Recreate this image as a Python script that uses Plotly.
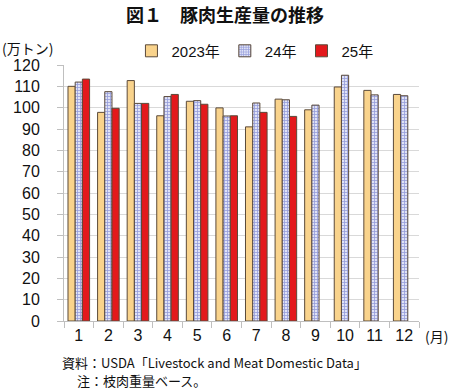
import plotly.graph_objects as go

months = ["1", "2", "3", "4", "5", "6", "7", "8", "9", "10", "11", "12"]
y2023 = [110.0, 97.8, 112.7, 96.2, 103.0, 99.9, 91.0, 104.0, 99.0, 109.7, 108.1, 106.2]
y2024 = [112.0, 107.5, 102.0, 105.2, 103.3, 96.1, 102.2, 103.7, 101.2, 115.2, 106.0, 105.6]
y2025 = [113.4, 99.7, 102.0, 106.2, 101.6, 96.2, 97.8, 95.9, None, None, None, None]
series_names = ["2023年", "24年", "25年"]
y_ticks = list(range(0, 121, 10))

FONT = "Liberation Sans, Arial, Noto Sans CJK JP, sans-serif"
JFONT = "Noto Sans CJK JP, sans-serif"
outline = dict(color="#5b4a3a", width=1)

fig = go.Figure()
fig.add_trace(go.Bar(x=months, y=y2023, name=series_names[0],
                     marker=dict(color="#F9D38C", line=outline)))
fig.add_trace(go.Bar(x=months, y=y2024, name=series_names[1],
                     marker=dict(color="#dfe2f6", line=outline,
                                 pattern=dict(shape="+", fgcolor="#4a55c0", bgcolor="#dfe2f6",
                                              size=3, solidity=0.45))))
fig.add_trace(go.Bar(x=months, y=y2025, name=series_names[2],
                     marker=dict(color="#E3191C", line=outline)))

fig.update_layout(
    width=450, height=390,
    margin=dict(l=64, r=31, t=65, b=69, autoexpand=False),
    paper_bgcolor="white", plot_bgcolor="white",
    barmode="group", bargap=0.27, bargroupgap=0,
    font=dict(family=FONT, size=15, color="#111"),
    showlegend=True,
    legend=dict(orientation="h", x=0.19, xanchor="left", y=0.99, yanchor="bottom",
                font=dict(family=FONT, size=15), itemwidth=30,
                traceorder="normal", bgcolor="rgba(0,0,0,0)"),
    title=dict(text="<b>図１　豚肉生産量の推移</b>", x=0.5, xanchor="center",
               y=0.977, yanchor="top", font=dict(family=JFONT, size=18, color="#111")),
)
fig.update_yaxes(range=[0, 120], tickvals=y_ticks, showgrid=True, gridcolor="#d9d9d9",
                 showline=True, linecolor="#bfbfbf", ticks="outside", ticklen=6,
                 tickcolor="#bfbfbf", ticklabelstandoff=14, zeroline=False,
                 tickfont=dict(size=16), automargin=False)
fig.update_xaxes(showline=True, linecolor="#bfbfbf", ticks="outside", ticklen=6,
                 tickcolor="#bfbfbf", tickson="boundaries", tickfont=dict(size=16),
                 ticklabelstandoff=0, automargin=False)

fig.add_annotation(text="(万トン)", xref="paper", yref="paper", x=-0.18, y=1.065,
                   xanchor="left", yanchor="middle", showarrow=False,
                   font=dict(family=JFONT, size=14))
fig.add_annotation(text="(月)", xref="paper", yref="paper", x=1.01, y=-0.06,
                   xanchor="left", yanchor="middle", showarrow=False,
                   font=dict(family=JFONT, size=14))
fig.add_annotation(text="資料：USDA「Livestock and Meat Domestic Data」", xref="paper",
                   yref="paper", x=-0.01, y=-0.161, xanchor="left", yanchor="middle",
                   showarrow=False, font=dict(family=JFONT, size=13))
fig.add_annotation(text="注：枝肉重量ベース。", xref="paper",
                   yref="paper", x=0.03, y=-0.232, xanchor="left", yanchor="middle",
                   showarrow=False, font=dict(family=JFONT, size=13))

fig.write_html("out.html", config={"displayModeBar": False},
               post_script="document.body.style.margin='0';")
